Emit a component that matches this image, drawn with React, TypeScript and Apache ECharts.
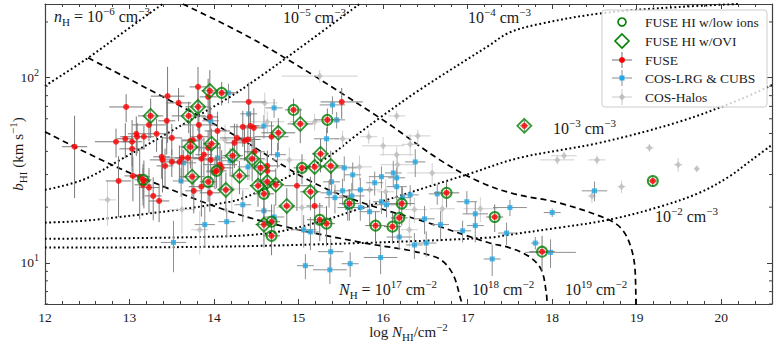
import React, { useEffect, useRef } from 'react';
import * as echarts from 'echarts';

const SERIF = '"Liberation Serif", "DejaVu Serif", serif';
const INK = '#1a1a1a';
const FRAME = '#404040';

// ---- model curves: [log N_HI, b_HI (km/s)] ----
const colNH17 = [[12.0, 51.0], [12.59, 37.4], [13.06, 29.9], [14.19, 18.9], [14.89, 15.5], [15.7, 13.0], [16.61, 10.8], [16.81, 8.95], [16.93, 6.1], [16.94, 5.9]];
const colNH18 = [[12.51, 128], [14.19, 50.4], [15.11, 28.1], [15.72, 21.4], [16.49, 16.7], [17.26, 12.8], [17.49, 12.1], [17.73, 10.8], [17.87, 9.2], [17.93, 6.9], [17.94, 5.9]];
const colNH19 = [[13.63, 250], [14.54, 154], [15.96, 60.7], [16.67, 36.0], [17.14, 27.4], [17.55, 23.6], [18.08, 21.1], [18.67, 17.1], [18.83, 15.1], [18.93, 12.2], [18.98, 9.2], [18.99, 5.9]];
const densE6 = [[12.0, 90.3], [12.51, 128], [12.95, 179], [13.39, 250]];
const densE5 = [[12.0, 24.8], [12.45, 28.1], [12.89, 36.0], [14.13, 75.9], [14.54, 101], [14.98, 141], [15.72, 250]];
const densE4 = [[12.0, 16.5], [12.59, 17.1], [14.19, 21.4], [14.54, 24.4], [14.92, 29.9], [15.33, 36.9], [15.66, 48.0], [15.96, 60.7], [16.43, 85.9], [17.26, 150], [17.49, 175], [17.85, 195], [18.59, 223], [19.5, 241], [20.2, 250]];
const densE3 = [[12.0, 13.5], [13.83, 13.8], [14.66, 14.5], [15.25, 16.7], [15.72, 19.6], [16.23, 23.3], [17.02, 30.3], [17.61, 36.9], [18.56, 44.5], [19.5, 57.8], [20.21, 75.9], [20.6, 91.4]];
const densE2 = [[12.0, 12.1], [13.83, 12.2], [15.72, 12.8], [17.26, 13.7], [17.49, 14.2], [18.08, 15.5], [18.67, 17.1], [19.27, 20.1], [19.74, 23.9], [20.09, 29.2], [20.36, 36.0], [20.6, 43.4]];

// ---- measurements: [log N_HI, b_HI, err logN, err b] ----
const fuse = [
  [12.35, 42.4, 0.15, 20], [12.96, 69.5, 0.2, 12], [12.84, 45.1, 0.25, 8], [12.95, 46.8, 0.1, 10],
  [13.03, 45.1, 0.12, 14], [13.03, 41.3, 0.15, 8], [13.08, 49.8, 0.1, 12], [13.09, 48.0, 0.2, 9],
  [13.17, 48.0, 0.08, 7], [13.32, 49.8, 0.15, 10], [13.44, 58.5, 0.1, 20], [13.45, 79.5, 0.2, 35],
  [13.58, 73.1, 0.15, 15], [13.5, 47.3, 0.12, 9], [13.23, 55.6, 0.2, 10], [13.81, 89.2, 0.1, 25],
  [13.38, 37.4, 0.1, 9], [13.39, 36.0, 0.15, 12], [13.42, 33.4, 0.1, 8], [13.5, 35.1, 0.12, 6],
  [13.59, 35.1, 0.1, 8], [13.62, 36.9, 0.2, 10], [13.69, 36.9, 0.15, 7], [13.85, 36.5, 0.1, 9],
  [13.96, 36.0, 0.12, 8], [13.82, 55.6, 0.2, 18], [13.72, 45.6, 0.1, 12], [14.04, 51.6, 0.15, 14],
  [13.93, 78.8, 0.1, 20], [14.07, 33.9, 0.2, 10], [14.01, 31.0, 0.1, 6], [14.09, 32.6, 0.12, 8],
  [12.87, 27.7, 0.15, 10], [13.04, 29.5, 0.1, 8], [13.12, 29.2, 0.12, 12], [13.17, 27.7, 0.08, 8],
  [13.16, 26.4, 0.1, 6], [13.23, 25.5, 0.12, 7], [13.28, 23.0, 0.1, 6], [13.35, 21.6, 0.12, 5],
  [13.85, 25.8, 0.15, 8], [13.76, 24.5, 0.1, 6], [13.95, 23.9, 0.12, 5], [14.41, 74.0, 0.2, 20],
  [14.34, 54.3, 0.15, 12], [14.43, 54.9, 0.1, 10], [14.47, 53.6, 0.12, 15], [14.27, 47.3, 0.2, 9],
  [14.36, 45.6, 0.1, 10], [14.4, 46.4, 0.15, 8], [14.24, 44.5, 0.1, 12], [14.48, 39.8, 0.12, 8],
  [14.63, 33.4, 0.15, 7], [14.63, 31.4, 0.1, 6], [14.68, 48.0, 0.2, 10], [15.51, 74.0, 0.25, 14],
  [14.98, 26.1, 0.15, 7], [15.19, 20.3, 0.1, 6], [13.88, 38.4, 0.1, 9], [13.93, 41.8, 0.15, 10],
  [13.83, 48.0, 0.1, 8], [13.75, 46.1, 0.12, 9], [13.95, 61.4, 0.1, 14],
];
const fuseLowIons = [
  [14.09, 82.8, 0.15, 12], [14.94, 67.0, 0.1, 10], [15.34, 59.2, 0.15, 9], [15.04, 32.6, 0.1, 6],
  [13.93, 27.4, 0.1, 6], [14.59, 23.6, 0.12, 5], [14.68, 16.7, 0.1, 4], [15.25, 17.1, 0.15, 4],
  [15.33, 16.3, 0.1, 4], [14.68, 14.0, 0.1, 3], [15.6, 20.9, 0.12, 4], [16.22, 20.9, 0.15, 5],
  [16.19, 17.5, 0.1, 4], [15.91, 15.9, 0.12, 3], [16.11, 15.7, 0.1, 3], [16.75, 23.9, 0.15, 4],
  [17.32, 17.7, 0.1, 3], [19.19, 27.7, 0.05, 2], [17.88, 11.5, 0.15, 2.5], [13.16, 28.1, 0.1, 6],
  [14.03, 31.4, 0.12, 6],
];
const fuseOVI = [
  [13.25, 62.2, 0.15, 15], [13.7, 62.2, 0.2, 12], [13.81, 69.6, 0.15, 18], [13.95, 84.9, 0.1, 25],
  [13.72, 42.3, 0.12, 10], [13.97, 44.0, 0.1, 9], [13.74, 29.2, 0.15, 7], [14.14, 24.8, 0.1, 6],
  [14.22, 37.9, 0.12, 8], [14.45, 36.5, 0.15, 9], [14.55, 32.6, 0.1, 7], [14.76, 50.4, 0.2, 10],
  [15.02, 56.3, 0.15, 12], [15.26, 38.8, 0.1, 8], [15.38, 33.4, 0.15, 7], [15.19, 33.0, 0.12, 6],
  [14.52, 26.1, 0.1, 6], [14.63, 27.4, 0.15, 5], [14.73, 26.4, 0.1, 6], [15.14, 24.2, 0.12, 5],
  [14.86, 20.3, 0.1, 5], [14.59, 16.1, 0.1, 4], [17.67, 55.0, 0.05, 4], [14.3, 29.5, 0.12, 6],
];
const cosLrg = [
  [14.17, 82.8, 0.1, 10], [14.41, 63.8, 0.1, 8], [14.59, 54.9, 0.12, 8], [13.96, 58.5, 0.1, 10],
  [14.04, 36.9, 0.1, 6], [13.64, 34.7, 0.15, 6], [14.71, 68.7, 0.1, 8], [15.4, 71.3, 0.15, 8],
  [15.45, 59.2, 0.1, 6], [15.33, 46.8, 0.15, 7], [14.75, 38.4, 0.1, 6], [14.4, 33.0, 0.12, 5],
  [14.19, 35.6, 0.1, 6], [15.54, 32.6, 0.15, 5], [15.64, 29.9, 0.1, 5], [16.38, 35.1, 0.12, 6],
  [16.12, 30.6, 0.1, 5], [15.98, 29.2, 0.15, 4], [16.16, 28.8, 0.1, 4], [13.61, 27.7, 0.1, 5],
  [13.89, 16.1, 0.12, 4], [14.15, 16.7, 0.1, 3], [13.52, 12.9, 0.15, 4], [14.59, 19.1, 0.1, 3],
  [14.71, 17.7, 0.12, 3], [14.34, 20.6, 0.1, 4], [15.06, 15.1, 0.15, 3], [15.14, 14.7, 0.1, 3],
  [15.08, 9.66, 0.1, 1.5], [15.38, 11.5, 0.15, 2], [15.61, 9.9, 0.1, 1.5], [15.37, 9.18, 0.2, 1.5],
  [15.36, 23.9, 0.1, 4], [15.43, 22.5, 0.12, 4], [15.52, 24.5, 0.1, 4], [15.63, 23.0, 0.15, 4],
  [15.39, 27.4, 0.1, 4], [15.58, 19.9, 0.12, 3], [15.9, 27.1, 0.1, 4], [15.73, 24.8, 0.15, 4],
  [16.32, 23.3, 0.1, 3], [16.16, 25.8, 0.12, 4], [15.98, 21.4, 0.1, 3], [16.04, 20.6, 0.15, 3],
  [16.23, 22.5, 0.1, 3], [15.73, 19.9, 0.1, 3], [15.84, 18.9, 0.12, 3], [16.19, 13.8, 0.15, 2],
  [16.37, 12.5, 0.1, 2], [16.51, 12.8, 0.12, 2], [15.97, 10.7, 0.2, 2], [16.64, 23.6, 0.1, 3],
  [16.49, 17.3, 0.12, 3], [16.68, 16.1, 0.1, 3], [17.09, 18.4, 0.15, 3], [17.09, 15.9, 0.1, 3],
  [16.99, 21.4, 0.12, 3], [16.94, 14.9, 0.1, 2], [17.29, 10.5, 0.1, 2], [17.46, 14.5, 0.1, 2],
  [18.5, 24.5, 0.15, 3], [18.0, 18.7, 0.1, 1], [17.5, 19.9, 0.2, 2], [17.8, 12.8, 0.05, 1],
  [17.98, 11.4, 0.3, 2],
];
const cosHalos = [
  [15.25, 102, 0.45, 8], [14.6, 73.1, 0.15, 10], [14.63, 57.8, 0.2, 8], [15.19, 57.8, 0.3, 6],
  [15.52, 46.8, 0.1, 5], [16.16, 62.2, 0.1, 4], [15.83, 48.0, 0.1, 4], [16.41, 48.5, 0.15, 4],
  [16.0, 42.9, 0.25, 5], [16.32, 43.7, 0.1, 6], [16.17, 33.9, 0.2, 5], [16.58, 30.6, 0.3, 4],
  [15.72, 33.0, 0.15, 5], [18.14, 37.9, 0.15, 2], [18.06, 36.0, 0.2, 2], [18.53, 36.0, 0.1, 2],
  [19.15, 41.8, 0.05, 2], [19.49, 33.9, 0.05, 3], [19.71, 32.2, 0.03, 1], [18.47, 23.0, 0.05, 2],
  [18.82, 25.8, 0.05, 2], [15.04, 19.9, 0.3, 4], [14.21, 25.1, 0.2, 6], [15.84, 24.8, 0.15, 4],
  [16.03, 24.2, 0.1, 4], [16.37, 19.4, 0.15, 3], [16.31, 15.1, 0.1, 3], [16.7, 19.6, 0.15, 3],
  [17.15, 19.6, 0.2, 3], [16.16, 38.4, 0.2, 4], [12.74, 21.9, 0.1, 6], [13.62, 19.4, 0.15, 5],
  [14.42, 36.0, 0.2, 8], [14.13, 46.1, 0.15, 10], [14.89, 36.0, 0.2, 6], [13.83, 15.1, 0.1, 4],
];
const yMinorTickValues = [6, 7, 8, 9, 20, 30, 40, 50, 60, 70, 80, 90, 200];
const legendNames = ['FUSE HI w/low ions', 'FUSE HI w/OVI', 'FUSE', 'COS-LRG & CUBS', 'COS-Halos'];

const C_RED = '#ff0000';
const C_BLUE = '#1fa8e6';
const C_GRAY = '#bdbdbd';
const C_GREEN = '#008000';

function richEC(size: number) {
  return {
    i: { fontFamily: SERIF, fontSize: size, fontStyle: 'italic', color: INK, lineHeight: size + 6 },
    sub: { fontFamily: SERIF, fontSize: Math.round(size * 0.7), color: INK, verticalAlign: 'bottom', lineHeight: Math.round(size * 0.75) },
    sup: { fontFamily: SERIF, fontSize: Math.round(size * 0.7), color: INK, verticalAlign: 'top', lineHeight: Math.round(size * 0.75) },
  };
}
function richZR(size: number) {
  return {
    i: { fontFamily: SERIF, fontSize: size, fontStyle: 'italic', fill: INK, lineHeight: size + 6 },
    sub: { fontFamily: SERIF, fontSize: Math.round(size * 0.7), fill: INK, verticalAlign: 'bottom', lineHeight: Math.round(size * 0.75) },
    sup: { fontFamily: SERIF, fontSize: Math.round(size * 0.7), fill: INK, verticalAlign: 'top', lineHeight: Math.round(size * 0.75) },
  };
}

function errRender(color: string) {
  return (params: any, api: any) => {
    const x = api.value(0), b = api.value(1), dx = api.value(2), db = api.value(3);
    const l = api.coord([x - dx, b]);
    const r = api.coord([x + dx, b]);
    const t = api.coord([x, b + db]);
    const bt = api.coord([x, Math.max(b - db, 0.5)]);
    return {
      type: 'group',
      children: [
        { type: 'line', shape: { x1: l[0], y1: l[1], x2: r[0], y2: r[1] }, style: { stroke: color, lineWidth: 1 } },
        { type: 'line', shape: { x1: t[0], y1: t[1], x2: bt[0], y2: bt[1] }, style: { stroke: color, lineWidth: 1 } },
      ],
    };
  };
}

function curve(data: number[][], dashed: boolean) {
  return {
    type: 'line', data, xAxisIndex: 0, yAxisIndex: 0, symbol: 'none', smooth: 0.35,
    silent: true, z: 1,
    lineStyle: { color: '#000', width: dashed ? 1.7 : 2, type: dashed ? [6, 4] : [1.8, 2.6] },
  };
}

function xAxisDef(pos: string, interval: number, major: boolean, withLabels: boolean) {
  return {
    type: 'value', min: 12, max: 20.6, interval, position: pos,
    axisLine: { show: major, onZero: false, lineStyle: { color: FRAME, width: 1.2 } },
    axisTick: { show: true, inside: true, length: major ? 5 : 3, lineStyle: { color: FRAME, width: 1 } },
    axisLabel: withLabels
      ? { show: true, formatter: (v: number) => (Math.abs(v - Math.round(v)) < 1e-6 ? String(Math.round(v)) : ''), fontFamily: SERIF, fontSize: 13.5, color: INK, margin: 6 }
      : { show: false },
    splitLine: { show: false },
  };
}

function buildOption() {
  const labels = [
    { x: 54, y: 16.5, t: '{i|n}{sub|H} = 10{sup|−6} cm{sup|−3}' },
    { x: 283, y: 17, t: '10{sup|−5} cm{sup|−3}' },
    { x: 468, y: 17, t: '10{sup|−4} cm{sup|−3}' },
    { x: 553, y: 128, t: '10{sup|−3} cm{sup|−3}' },
    { x: 655, y: 216.5, t: '10{sup|−2} cm{sup|−3}' },
    { x: 339, y: 289, t: '{i|N}{sub|H} = 10{sup|17} cm{sup|−2}' },
    { x: 472, y: 289, t: '10{sup|18} cm{sup|−2}' },
    { x: 565, y: 289, t: '10{sup|19} cm{sup|−2}' },
  ];
  const labelEls = labels.map((l) => ({
    type: 'text', x: l.x, y: l.y, z: 50,
    style: {
      text: l.t, fontFamily: SERIF, fontSize: 16, fill: INK, lineHeight: 22,
      align: 'left', verticalAlign: 'middle', textAlign: 'left', textVerticalAlign: 'middle',
      rich: richZR(16),
    },
  }));

  const lx = 622, rowY = [22, 41, 60, 78, 97];
  const legendEls: any[] = [
    { type: 'rect', shape: { x: 602, y: 10, width: 165, height: 97, r: 3 }, style: { fill: 'rgba(255,255,255,0.8)', stroke: '#cccccc', lineWidth: 1 }, z: 60 },
    { type: 'circle', shape: { cx: lx, cy: rowY[0], r: 4 }, style: { fill: 'none', stroke: C_GREEN, lineWidth: 1.6 }, z: 61 },
    { type: 'polygon', shape: { points: [[lx, rowY[1] - 7], [lx + 7, rowY[1]], [lx, rowY[1] + 7], [lx - 7, rowY[1]]] }, style: { fill: 'none', stroke: C_GREEN, lineWidth: 1.6 }, z: 61 },
  ];
  const errCols = ['#707070', '#8a8a8a', '#c8c8c8'];
  [2, 3, 4].forEach((k, j) => {
    legendEls.push({ type: 'line', shape: { x1: lx - 10, y1: rowY[k], x2: lx + 10, y2: rowY[k] }, style: { stroke: errCols[j], lineWidth: 1 }, z: 61 });
    legendEls.push({ type: 'line', shape: { x1: lx, y1: rowY[k] - 8, x2: lx, y2: rowY[k] + 8 }, style: { stroke: errCols[j], lineWidth: 1 }, z: 61 });
  });
  legendEls.push({ type: 'circle', shape: { cx: lx, cy: rowY[2], r: 3 }, style: { fill: C_RED }, z: 62 });
  legendEls.push({ type: 'rect', shape: { x: lx - 2.5, y: rowY[3] - 2.5, width: 5, height: 5 }, style: { fill: C_BLUE }, z: 62 });
  legendEls.push({ type: 'polygon', shape: { points: [[lx, rowY[4] - 3.5], [lx + 3, rowY[4]], [lx, rowY[4] + 3.5], [lx - 3, rowY[4]]] }, style: { fill: C_GRAY }, z: 62 });
  legendNames.forEach((n, k) => {
    legendEls.push({
      type: 'text', x: 645, y: rowY[k], z: 62,
      style: { text: n, fontFamily: SERIF, fontSize: 13.5, fill: INK, align: 'left', verticalAlign: 'middle', textAlign: 'left', textVerticalAlign: 'middle' },
    });
  });

  const allFuse = [...fuse, ...fuseLowIons, ...fuseOVI];

  return {
    animation: false,
    backgroundColor: '#ffffff',
    grid: { left: 45, right: 5, top: 4, bottom: 41, containLabel: false, outerBoundsMode: 'none' },
    xAxis: [
      {
        ...xAxisDef('bottom', 1, true, true),
        name: 'log {i|N}{sub|HI}/cm{sup|−2}', nameLocation: 'middle', nameGap: 17, nameMoveOverlap: false,
        nameTextStyle: { fontFamily: SERIF, fontSize: 15, color: INK, lineHeight: 20, rich: richEC(15) },
      },
      xAxisDef('bottom', 0.2, false, false),
      xAxisDef('top', 1, true, false),
      xAxisDef('top', 0.2, false, false),
    ],
    yAxis: [
      {
        type: 'log', logBase: 10, min: 6, max: 250, position: 'left',
        axisLine: { show: true, onZero: false, lineStyle: { color: FRAME, width: 1.2 } },
        axisTick: { show: true, inside: true, length: 5, lineStyle: { color: FRAME } },
        axisLabel: {
          show: true, fontFamily: SERIF, fontSize: 13.5, color: INK, lineHeight: 20, margin: 6,
          formatter: (v: number) => {
            const e = Math.log10(v);
            return Math.abs(e - Math.round(e)) < 1e-6 ? '10{sup|' + Math.round(e) + '}' : '';
          },
          rich: { sup: { fontFamily: SERIF, fontSize: 10, color: INK, verticalAlign: 'top', lineHeight: 11 } },
        },
        splitLine: { show: false },
        name: '{i|b}{sub|HI} (km s{sup|−1})', nameLocation: 'middle', nameGap: 17, nameRotate: 90, nameMoveOverlap: false,
        nameTextStyle: { fontFamily: SERIF, fontSize: 15, color: INK, lineHeight: 20, rich: richEC(15) },
      },
      {
        type: 'log', logBase: 10, min: 6, max: 250, position: 'right',
        axisLine: { show: true, onZero: false, lineStyle: { color: FRAME, width: 1.2 } },
        axisTick: { show: true, inside: true, length: 5, lineStyle: { color: FRAME } },
        axisLabel: { show: false },
        splitLine: { show: false },
      },
    ],
    graphic: [...labelEls, ...legendEls],
    series: [
      curve(colNH17, true), curve(colNH18, true), curve(colNH19, true),
      curve(densE6, false), curve(densE5, false), curve(densE4, false), curve(densE3, false), curve(densE2, false),
      {
        type: 'custom', name: 'minor ticks', data: yMinorTickValues.map((v) => [12, v]), encode: { x: 0, y: 1 }, silent: true, z: 5,
        renderItem: (p: any, api: any) => {
          const v = api.value(1);
          const L = api.coord([12, v]);
          const R = api.coord([20.6, v]);
          return {
            type: 'group', children: [
              { type: 'line', shape: { x1: L[0], y1: L[1], x2: L[0] + 3, y2: L[1] }, style: { stroke: FRAME, lineWidth: 1 } },
              { type: 'line', shape: { x1: R[0], y1: R[1], x2: R[0] - 3, y2: R[1] }, style: { stroke: FRAME, lineWidth: 1 } },
            ],
          };
        },
      },
      { type: 'custom', name: 'COS-Halos err', data: cosHalos, encode: { x: 0, y: 1 }, renderItem: errRender('#cfcfcf'), clip: true, silent: true, z: 2 },
      { type: 'scatter', name: 'COS-Halos', data: cosHalos, symbol: 'diamond', symbolSize: [6, 7], itemStyle: { color: C_GRAY }, z: 3 },
      { type: 'custom', name: 'COS-LRG err', data: cosLrg, encode: { x: 0, y: 1 }, renderItem: errRender('#8f8f8f'), clip: true, silent: true, z: 4 },
      { type: 'scatter', name: 'COS-LRG & CUBS', data: cosLrg, symbol: 'rect', symbolSize: 5, itemStyle: { color: C_BLUE }, z: 5 },
      { type: 'custom', name: 'FUSE err', data: allFuse, encode: { x: 0, y: 1 }, renderItem: errRender('#7a7a7a'), clip: true, silent: true, z: 6 },
      { type: 'scatter', name: 'FUSE', data: allFuse, symbol: 'circle', symbolSize: 6, itemStyle: { color: C_RED }, z: 7 },
      { type: 'scatter', name: 'FUSE HI w/low ions', data: fuseLowIons, symbol: 'circle', symbolSize: 10, itemStyle: { color: 'rgba(0,0,0,0)', borderColor: C_GREEN, borderWidth: 2 }, z: 8 },
      { type: 'scatter', name: 'FUSE HI w/OVI', data: fuseOVI, symbol: 'diamond', symbolSize: 14, itemStyle: { color: 'rgba(0,0,0,0)', borderColor: C_GREEN, borderWidth: 1.8 }, z: 8 },
    ],
  };
}

export default function App() {
  const ref = useRef<HTMLDivElement>(null);
  useEffect(() => {
    if (!ref.current) return;
    const chart = echarts.init(ref.current, undefined, { renderer: 'svg' });
    chart.setOption(buildOption() as any);
    return () => chart.dispose();
  }, []);
  return <div ref={ref} style={{ position: 'fixed', left: 0, top: 0, width: 777, height: 345, background: '#fff' }} />;
}
